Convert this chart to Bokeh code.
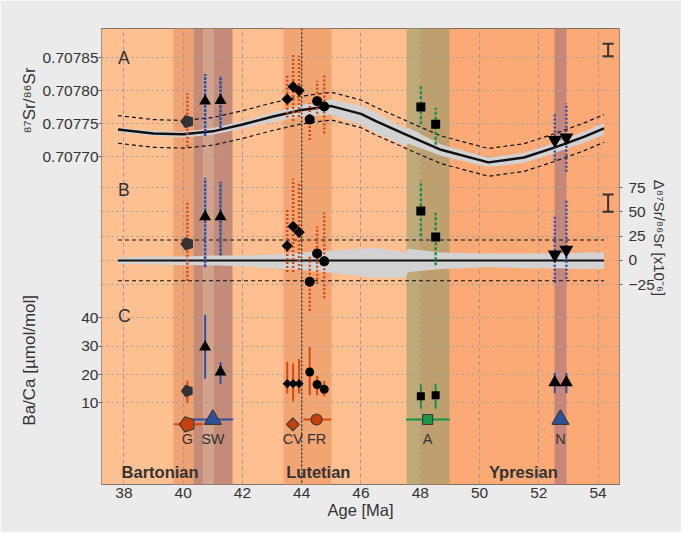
import math
from bokeh.plotting import figure
from bokeh.models import (Range1d, LinearAxis, FixedTicker, Grid, Span,
                          Whisker, TeeHead, CustomJSTickFormatter, ColumnDataSource)
from bokeh.core.properties import value
from bokeh.embed import file_html
from bokeh.resources import INLINE

# ---------------- data ----------------
x_ticks = [38, 40, 42, 44, 46, 48, 50, 52, 54]
sr_ticks = [0.70770, 0.70775, 0.70780, 0.70785]
delta_ticks = [-25, 0, 25, 50, 75]
baca_ticks = [10, 20, 30, 40]

stage_name = ["Bartonian", "Lutetian", "Ypresian"]
stage_young = [37.0, 41.2, 48.0]
stage_old = [41.2, 48.0, 56.0]

# age windows of the sample sites (overlapping tinted strips)
window_young = [39.68, 40.34, 40.67, 41.03, 43.37, 47.52, 48.00, 52.53]
window_old = [40.34, 40.67, 41.03, 41.66, 45.02, 48.00, 49.00, 52.93]

event_age = 44.0

# smoothed seawater 87Sr/86Sr curve and its confidence band (x10^-6)
curve_age = [37.8, 39.0, 40.0, 41.0, 42.0, 43.0, 44.0, 45.0, 46.0, 46.5,
             47.5, 47.6, 48.7, 50.3, 51.5, 52.5, 53.5, 54.2]
curve_sr = [0.7077412, 0.7077350, 0.7077338, 0.7077382, 0.7077485, 0.7077603,
            0.7077706, 0.7077765, 0.7077647, 0.7077537, 0.7077338, 0.7077316,
            0.7077103, 0.7076912, 0.7076985, 0.7077132, 0.7077294, 0.7077426]
ci_upper = [3, 4, 4, 5, 5, 6, 8, 10, 12, 13, 8, 12, 8, 7, 7, 7, 8, 8]
ci_lower = [-4, -4, -5, -5, -6, -8, -10, -13, -16, -18, -18, -12, -9, -7, -8, -8, -9, -9]
envelope = 21

# samples
sample_site = ["G", "SW", "SW", "CV", "CV", "CV", "FR", "FR", "FR", "A", "A", "N", "N"]
sample_age = [40.14, 40.74, 41.26, 43.51, 43.71, 43.91, 44.27, 44.52, 44.76,
              48.02, 48.52, 52.54, 52.93]
sr_mean = [0.707753, 0.707784, 0.707785, 0.707787, 0.707806, 0.707800, 0.707756,
           0.707784, 0.707776, 0.707775, 0.707749, 0.707725, 0.707729]
sr_min = [0.707715, 0.707731, 0.707743, 0.707759, 0.707754, 0.707760, 0.707725,
          0.707765, 0.707735, 0.707749, 0.707718, 0.707694, 0.707677]
sr_max = [0.707796, 0.707825, 0.707822, 0.707825, 0.707856, 0.707853, 0.707781,
          0.707815, 0.707826, 0.707807, 0.707774, 0.707765, 0.707781]
d_mean = [17, 45, 45, 15, 35, 29, -22, 7, -1, 51, 24, 6, 11]
d_min = [-21, -7, 5, -12, -12, -10, -52, -24, -39, 25, -5, -23, -19]
d_max = [60, 85, 81, 53, 84, 81, 5, 35, 49, 82, 49, 46, 62]
baca_mean = [14.2, 29.7, 20.9, 16.8, 16.8, 16.8, 20.9, 16.5, 14.8, 12.4, 12.7, 17.2, 17.2]
baca_lo = [10.0, 18.5, 16.8, 13.3, 10.5, 13.3, 12.7, 12.7, 12.4, 8.0, 8.0, 13.4, 13.4]
baca_hi = [17.8, 41.0, 24.3, 24.5, 24.0, 25.5, 29.7, 19.5, 17.8, 16.5, 16.8, 20.5, 20.5]

# site summary row
site_name = ["G", "SW", "CV", "FR", "A", "N"]
site_age = [40.14, 41.0, 43.7, 44.5, 48.25, 52.73]
site_age_min = [39.68, 40.34, 43.7, 44.06, 47.52, 52.73]
site_age_max = [40.67, 41.69, 43.7, 45.0, 49.0, 52.73]
site_baca = [2.5, 4.2, 2.5, 4.2, 4.2, 4.2]

# external reproducibility bars
repro_sr = [0.707852, 0.707871]
repro_delta = [50, 68]

# ---------------- styles ----------------
FONT = "Liberation Sans"
TXT = "#333333"
stage_fill = ["#FDC091", "#FDBF8F", "#FBA975"]
window_fill = ["#EFA272", "#C48B78", "#CFA48F", "#C48B78", "#F0A573", "#C0AB78", "#BEA06E", "#C4877A"]
site_color = {"G": "#D9480F", "SW": "#2F4FA6", "CV": "#D9480F", "FR": "#D9480F",
              "A": "#12934A", "N": "#2F4FA6"}
site_fill = {"G": "#C8400C", "SW": "#3050A0", "CV": "#C8400C", "FR": "#C8400C",
             "A": "#1E9646", "N": "#3050A0"}
marker_sr = {"G": "pentagon", "SW": "triangle", "CV": "diamond", "FR": "circle",
             "A": "square", "N": "inverted_triangle"}
marker_ba = dict(marker_sr, N="triangle")
size_A = {"G": 7, "SW": 12, "CV": 8, "FR": 10, "A": 9, "N": 14}
size_C = {"G": 6.5, "SW": 12, "CV": 6.5, "FR": 9, "A": 8, "N": 13}
size_S = {"G": 8, "SW": 17, "CV": 9, "FR": 11, "A": 10, "N": 17}

p = figure(width=681, height=532, output_backend="svg", toolbar_location=None,
           x_range=Range1d(37.243, 54.724), y_range=Range1d(-18.64, 141.6),
           min_border_left=101, min_border_right=62, min_border_top=28, min_border_bottom=48,
           background_fill_color=stage_fill[0], border_fill_color="#EBEBEB")
p.extra_y_ranges = {"A": Range1d(0.70720294, 0.70789412), "B": Range1d(-231, 239)}
p.outline_line_color = "#5a5a5a"
p.outline_line_width = 1

yC = p.y_range
yA = p.extra_y_ranges["A"]


def a_to_c(v):
    return yC.start + (v - yA.start) / (yA.end - yA.start) * (yC.end - yC.start)


left_ticks = list(baca_ticks) + [a_to_c(v) for v in sr_ticks]


def style_axis(ax, size="15.5px"):
    ax.axis_line_color = None
    ax.major_label_text_font = FONT
    ax.major_label_text_font_size = size
    ax.major_label_text_color = TXT
    ax.minor_tick_line_color = None
    ax.major_tick_line_color = "#666666"
    ax.major_tick_out = 3
    ax.major_tick_in = 0


def title_axis(ax):
    ax.major_tick_line_color = None
    ax.major_tick_out = 0


def text_formatter(txt):
    return CustomJSTickFormatter(args=dict(t=txt), code="return t;")


# x axis
p.xaxis.ticker = FixedTicker(ticks=x_ticks)
style_axis(p.xaxis[0])
p.xaxis.major_tick_line_color = None
p.xaxis.major_tick_out = 0
p.xaxis.major_label_standoff = 3
p.xaxis.axis_label = "Age [Ma]"
p.xaxis.axis_label_standoff = 0
p.xaxis.axis_label_text_font = FONT
p.xaxis.axis_label_text_font_size = "16.5px"
p.xaxis.axis_label_text_font_style = "normal"
p.xaxis.axis_label_text_color = TXT

# left axis: 87Sr/86Sr (panel A) and Ba/Ca (panel C) tick labels on one scale
p.yaxis.ticker = FixedTicker(ticks=left_ticks)
style_axis(p.yaxis[0])
p.yaxis.formatter = CustomJSTickFormatter(
    args=dict(a0=yA.start, c0=yC.start, k=(yA.end - yA.start) / (yC.end - yC.start)),
    code="if (tick > 45) { return (a0 + (tick - c0) * k).toFixed(5); } return tick.toFixed(0);")
p.yaxis.major_label_standoff = 0

# left axis titles (panel A and panel C), as rotated labels of an outer axis
ax_titles = LinearAxis(ticker=FixedTicker(ticks=[25.0, a_to_c(0.707785)]),
                       formatter=CustomJSTickFormatter(
                           args=dict(ta="⁸⁷Sr/⁸⁶Sr", tc="Ba/Ca [µmol/mol]"),
                           code="return tick > 45 ? ta : tc;"))
style_axis(ax_titles, "17px")
title_axis(ax_titles)
ax_titles.major_label_standoff = 0
ax_titles.major_label_orientation = "vertical"
p.add_layout(ax_titles, "left")

# right axes
right_axis = LinearAxis(y_range_name="B", ticker=FixedTicker(ticks=delta_ticks))
style_axis(right_axis)
right_axis.major_label_standoff = 6
p.add_layout(right_axis, "right")
ax_dt = LinearAxis(y_range_name="B", ticker=FixedTicker(ticks=[83]),
                   formatter=text_formatter("Δ⁸⁷Sr/⁸⁶Sr [x10⁻⁶]"))
style_axis(ax_dt, "15px")
title_axis(ax_dt)
ax_dt.major_label_standoff = 2
ax_dt.major_label_orientation = -math.pi / 2
p.add_layout(ax_dt, "right")

# grids
p.xgrid.ticker = FixedTicker(ticks=x_ticks)
p.xgrid.grid_line_color = "#9a9aa4"
p.xgrid.grid_line_dash = "4 3"
p.ygrid.ticker = FixedTicker(ticks=left_ticks)
p.ygrid.grid_line_color = "#a0a0a0"
p.ygrid.grid_line_dash = "2 3"
gB = Grid(dimension=1, y_range_name="B", ticker=FixedTicker(ticks=delta_ticks),
          grid_line_color="#a0a0a0", grid_line_dash="2 3")
p.add_layout(gB)

# background strips
p.vstrip(x0=stage_young, x1=stage_old, fill_color=stage_fill, line_color=None, level="image")
p.vstrip(x0=window_young, x1=window_old, fill_color=window_fill, line_color=None, level="image")
p.add_layout(Span(location=event_age, dimension="height", line_color="#2a2a2a",
                  line_dash="2 2", line_width=1.2))

# panel A: curve
band_top_A = [c + u * 1e-6 for c, u in zip(curve_sr, ci_upper)]
band_bot_A = [c + l * 1e-6 for c, l in zip(curve_sr, ci_lower)]
p.varea(x=curve_age, y1=band_bot_A, y2=band_top_A, fill_color="#D2D2D2", y_range_name="A")
p.line(curve_age, curve_sr, line_color="#111111", line_width=2.5, y_range_name="A")
p.line(curve_age, [c + envelope * 1e-6 for c in curve_sr], line_color="#111111",
       line_width=1.2, line_dash="4 3", y_range_name="A")
p.line(curve_age, [c - envelope * 1e-6 for c in curve_sr], line_color="#111111",
       line_width=1.2, line_dash="4 3", y_range_name="A")

# panel B: deviation
p.varea(x=curve_age, y1=ci_lower, y2=ci_upper, fill_color="#D2D2D2", y_range_name="B")
p.line(curve_age, [0] * len(curve_age), line_color="#111111", line_width=2, y_range_name="B")
p.line(curve_age, [envelope] * len(curve_age), line_color="#111111", line_width=1.2,
       line_dash="4 3", y_range_name="B")
p.line(curve_age, [-envelope] * len(curve_age), line_color="#111111", line_width=1.2,
       line_dash="4 3", y_range_name="B")


def draw_marker(m, xs, ys, size, rng, fill, line, lw):
    kw = dict(fill_color=fill, line_color=line, line_width=lw, y_range_name=rng)
    if m == "pentagon":
        try:
            p.ngon(x=xs, y=ys, radius=size, radius_units="screen", n=5, angle=math.pi / 2, **kw)
        except Exception:
            p.scatter(x=xs, y=ys, marker="hex", size=2 * size, **kw)
    elif m == "diamond":
        p.scatter(x=xs, y=ys, marker="square", angle=math.pi / 4, size=size, **kw)
    else:
        p.scatter(x=xs, y=ys, marker=m, size=size, **kw)


sites = ["G", "SW", "CV", "FR", "A", "N"]
dot_dash = {"G": "2 2", "SW": "3 1", "CV": "2 2", "FR": "2 2", "A": "3 2", "N": "2 2"}
for s in sites:
    idx = [i for i, v in enumerate(sample_site) if v == s]
    xs = [sample_age[i] for i in idx]
    col = site_color[s]
    # individual measurements (dotted columns)
    p.segment(x0=xs, x1=xs, y0=[sr_min[i] for i in idx], y1=[sr_max[i] for i in idx],
              line_color=col, line_width=2.5, line_dash=dot_dash[s], y_range_name="A")
    p.segment(x0=xs, x1=xs, y0=[d_min[i] for i in idx], y1=[d_max[i] for i in idx],
              line_color=col, line_width=2.5, line_dash=dot_dash[s], y_range_name="B")
    p.segment(x0=xs, x1=xs, y0=[baca_lo[i] for i in idx], y1=[baca_hi[i] for i in idx],
              line_color=col, line_width=2)

for s in sites:
    idx = [i for i, v in enumerate(sample_site) if v == s]
    xs = [sample_age[i] for i in idx]
    fill = "#333333" if s == "G" else "#000000"
    draw_marker(marker_sr[s], xs, [sr_mean[i] for i in idx], size_A[s], "A", fill, fill, 0)
    draw_marker(marker_sr[s], xs, [d_mean[i] for i in idx], size_A[s], "B", fill, fill, 0)
    draw_marker(marker_ba[s], xs, [baca_mean[i] for i in idx], size_C[s], "default", fill, fill, 0)

# site summary row
for i, s in enumerate(site_name):
    p.segment(x0=[site_age_min[i]], x1=[site_age_max[i]], y0=[site_baca[i]], y1=[site_baca[i]],
              line_color=site_color[s], line_width=2)
for i, s in enumerate(site_name):
    draw_marker(marker_ba[s], [site_age[i]], [site_baca[i]], size_S[s], "default",
                site_fill[s], "#3a3a3a", 1.2)

p.text(x=site_age, y=[-2.6] * len(site_age), text=site_name, text_font=value(FONT),
       text_font_size="14.5px", text_color=TXT, text_align="center", text_baseline="middle")

# stage names
p.text(x=[39.22, 44.56, 51.48], y=[-14.2] * 3, text=stage_name, text_font=value(FONT),
       text_font_size="16.5px", text_font_style="bold", text_color=TXT,
       text_align="center", text_baseline="middle")

# panel letters
p.text(x=[37.8], y=[0.70785], text=["A"], text_font=value(FONT), text_font_size="17.5px",
       text_color=TXT, text_align="left", text_baseline="middle", y_range_name="A")
p.text(x=[37.8], y=[73], text=["B"], text_font=value(FONT), text_font_size="17.5px",
       text_color=TXT, text_align="left", text_baseline="middle", y_range_name="B")
p.text(x=[37.8], y=[40.7], text=["C"], text_font=value(FONT), text_font_size="17.5px",
       text_color=TXT, text_align="left", text_baseline="middle")

# reproducibility bars
srcA = ColumnDataSource(dict(base=[54.34], lower=[repro_sr[0]], upper=[repro_sr[1]]))
srcB = ColumnDataSource(dict(base=[54.34], lower=[repro_delta[0]], upper=[repro_delta[1]]))
for src, rn in [(srcA, "A"), (srcB, "B")]:
    w = Whisker(source=src, base="base", lower="lower", upper="upper", dimension="height",
                y_range_name=rn, line_color="#333333", line_width=2,
                upper_head=TeeHead(size=11, line_color="#333333", line_width=2),
                lower_head=TeeHead(size=11, line_color="#333333", line_width=2))
    p.add_layout(w)

open("out.html", "w").write(file_html(p, INLINE))
